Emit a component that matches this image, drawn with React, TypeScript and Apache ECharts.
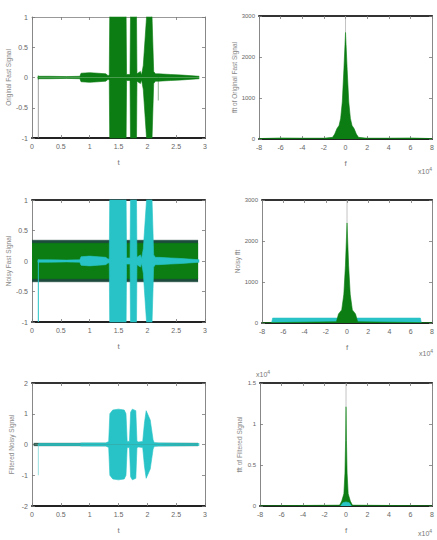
import React, { useEffect, useRef } from "react";
import * as echarts from "echarts";

// ---- time-domain envelopes (t in s, amplitude) ----
const tOrig = [0.1, 0.11, 0.12, 0.3, 0.6, 0.83, 0.85, 1.0, 1.15, 1.28, 1.32, 1.34, 1.35, 1.63, 1.64, 1.7, 1.71, 1.81, 1.82, 1.88, 1.9, 1.93, 1.99, 2.03, 2.08, 2.11, 2.14, 2.2, 2.4, 2.6, 2.9];
const ampOrig = [0, 0.03, 0.02, 0.02, 0.015, 0.02, 0.07, 0.08, 0.07, 0.06, 0.03, 0.04, 1.3, 1.3, 0.05, 0.05, 1.3, 1.3, 0.06, 0.1, 0.04, 0.2, 1.05, 1.3, 1.05, 0.1, 0.06, 0.06, 0.05, 0.04, 0.02];
const tSpike = [0.11, 0.11];
const vSpike = [0, -1];
const tSpike2 = [2.19, 2.19];
const vSpike2 = [0, -0.38];

const tNoise = [0, 2.88];
const ampNoise = [0.29, 0.29];
const ampNoisePeak = [0.34, 0.34];

const tFilt = [0.1, 0.12, 0.83, 0.85, 1.28, 1.33, 1.35, 1.4, 1.5, 1.6, 1.63, 1.65, 1.69, 1.71, 1.74, 1.8, 1.82, 1.85, 1.92, 1.95, 1.98, 2.05, 2.1, 2.12, 2.2, 2.9];
const ampFilt = [0, 0.03, 0.03, 0.05, 0.05, 0.1, 1.0, 1.12, 1.15, 1.12, 1.0, 0.1, 0.1, 1.05, 1.15, 1.1, 0.1, 0.08, 0.1, 0.7, 1.1, 0.8, 0.15, 0.06, 0.05, 0.03];
const tBase = [0.03, 2.88];
const ampBase = [0.04, 0.04];

// ---- spectra (f in 1e4 Hz) ----
const fOrig = [-8, -6, -4, -2, -1.2, -1.0, -0.8, -0.6, -0.45, -0.3, -0.15, -0.05, 0, 0.05, 0.15, 0.3, 0.45, 0.6, 0.8, 1.0, 1.2, 2, 4, 6, 8];
const magOrig = [10, 25, 20, 20, 40, 120, 250, 330, 500, 900, 1700, 2300, 2600, 2300, 1700, 900, 500, 330, 250, 120, 40, 20, 20, 25, 10];

const fNoisy = [-8, -1.0, -0.8, -0.5, -0.3, -0.15, -0.05, 0, 0.05, 0.15, 0.3, 0.5, 0.8, 1.0, 8];
const magNoisy = [5, 30, 220, 320, 700, 1400, 2100, 2440, 2100, 1400, 700, 320, 220, 30, 5];
const fFloor = [-7.1, -7.0, 6.9, 7.0];
const magFloor = [0, 120, 120, 0];

const fFilt = [-8, -0.6, -0.4, -0.2, -0.1, -0.04, 0, 0.04, 0.1, 0.2, 0.4, 0.6, 8];
const magFilt = [0.002, 0.01, 0.06, 0.15, 0.4, 0.8, 1.21, 0.8, 0.4, 0.15, 0.06, 0.01, 0.002];
const fFiltC = [-0.5, -0.3, 0, 0.3, 0.5];
const magFiltC = [0, 0.04, 0.05, 0.04, 0];

const fDC = [0, 0];
const magDC1 = [2600, 3000];
const magDC2 = [2440, 3000];
const magDC3 = [1.21, 1.5];

const xTicksT = [0, 3, 0.5];
const xTicksF = [-8, 8, 2];

const GREEN = "#0b7d12";
const DARK = "#1d4a3c";
const CYAN = "#27c3c6";
const FONT = "Liberation Sans";

type Panel = {
  left: number; top: number; width: number; height: number;
  x: number[]; y: number[]; name: string; xname: string;
  topThick: boolean; ylabSize: number; nameGap: number;
};

const panels: Panel[] = [
  { left: 32, top: 17, width: 173, height: 121, x: xTicksT, y: [-1, 1, 0.5], name: "Original Fast Signal", xname: "t", topThick: false, ylabSize: 7, nameGap: 17 },
  { left: 259, top: 16, width: 176, height: 123, x: xTicksF, y: [0, 3000, 1000], name: "fft of Original Fast Signal", xname: "f", topThick: true, ylabSize: 6, nameGap: 19 },
  { left: 32, top: 200, width: 173, height: 122, x: xTicksT, y: [-1, 1, 0.5], name: "Noisy Fast Signal", xname: "t", topThick: true, ylabSize: 7, nameGap: 17 },
  { left: 262, top: 200, width: 173, height: 123, x: xTicksF, y: [0, 3000, 1000], name: "Noisy fft", xname: "f", topThick: true, ylabSize: 6, nameGap: 19 },
  { left: 32, top: 383, width: 173, height: 123, x: xTicksT, y: [-2, 2, 1], name: "Filtered Noisy Signal", xname: "t", topThick: true, ylabSize: 7, nameGap: 17 },
  { left: 260, top: 383, width: 175, height: 123, x: xTicksF, y: [0, 1.5, 0.5], name: "fft of Filtered Signal", xname: "f", topThick: true, ylabSize: 6, nameGap: 17 },
];

const pairs = (xs: number[], ys: number[], s = 1) => xs.map((x, i) => [x, s * ys[i]]);

function area(idx: number, xs: number[], ys: number[], color: string, z: number, sym: boolean) {
  const mk = (s: number) => ({
    type: "line", xAxisIndex: idx, yAxisIndex: idx, data: pairs(xs, ys, s),
    symbol: "none", showSymbol: false, z,
    lineStyle: { color, width: 0.6 }, areaStyle: { color, opacity: 1 },
  });
  return sym ? [mk(1), mk(-1)] : [mk(1)];
}
function thin(idx: number, xs: number[], ys: number[], color: string, z: number, w = 0.8) {
  return { type: "line", xAxisIndex: idx, yAxisIndex: idx, data: pairs(xs, ys), symbol: "none", showSymbol: false, z, lineStyle: { color, width: w } };
}

export default function App() {
  const ref = useRef<HTMLDivElement>(null);
  useEffect(() => {
    if (!ref.current) return;
    const chart = echarts.init(ref.current, null, { renderer: "svg" });
    const grid = panels.map((p) => ({ left: p.left, top: p.top, width: p.width, height: p.height, containLabel: false }));
    const tick = { show: true, inside: true, length: 3, lineStyle: { color: "#777", width: 0.8 } };
    const fmt = (v: number) => String(v);
    const xAxis: any[] = [];
    const yAxis: any[] = [];
    panels.forEach((p, i) => {
      xAxis.push({
        type: "value", gridIndex: i, position: "bottom", min: p.x[0], max: p.x[1], interval: p.x[2],
        axisLine: { show: true, onZero: false, lineStyle: { color: "#222", width: 2 } },
        axisTick: tick, splitLine: { show: false },
        axisLabel: { fontSize: 7, color: "#666", margin: 5, fontFamily: FONT, showMinLabel: true, showMaxLabel: true, formatter: fmt },
        name: p.xname, nameLocation: "middle", nameGap: 20, nameTextStyle: { fontSize: 8, color: "#777", fontFamily: FONT },
      });
      yAxis.push({
        type: "value", gridIndex: i, position: "left", min: p.y[0], max: p.y[1], interval: p.y[2],
        axisLine: { show: true, onZero: false, lineStyle: { color: "#888", width: 1 } },
        axisTick: tick, splitLine: { show: false },
        axisLabel: { fontSize: p.ylabSize, color: "#666", margin: 4, fontFamily: FONT, showMinLabel: true, showMaxLabel: true, formatter: fmt },
        name: p.name, nameLocation: "middle", nameGap: p.nameGap, nameRotate: 90,
        nameTextStyle: { fontSize: 6.5, color: "#888", fontFamily: FONT },
      });
    });
    panels.forEach((p, i) => {
      xAxis.push({
        type: "value", gridIndex: i, position: "top", min: p.x[0], max: p.x[1], interval: p.x[2],
        axisLine: { show: true, onZero: false, lineStyle: { color: p.topThick ? "#333" : "#999", width: p.topThick ? 2 : 1 } },
        axisTick: tick, axisLabel: { show: false }, splitLine: { show: false },
      });
      yAxis.push({
        type: "value", gridIndex: i, position: "right", min: p.y[0], max: p.y[1], interval: p.y[2],
        axisLine: { show: true, onZero: false, lineStyle: { color: "#888", width: 1 } },
        axisTick: tick, axisLabel: { show: false }, splitLine: { show: false },
      });
    });

    const series: any[] = [
      thin(0, tSpike, vSpike, "#888", 2, 0.8),
      thin(0, tSpike2, vSpike2, "#4a7a4a", 2, 0.6),
      ...area(0, tOrig, ampOrig, GREEN, 3, true),
      thin(1, fDC, magDC1, "#999", 2, 0.6),
      ...area(1, fOrig, magOrig, GREEN, 3, false),
      ...area(2, tNoise, ampNoisePeak, DARK, 2, true),
      ...area(2, tNoise, ampNoise, GREEN, 3, true),
      thin(2, tSpike, vSpike, CYAN, 4, 1),
      ...area(2, tOrig, ampOrig, CYAN, 5, true),
      thin(3, fDC, magDC2, "#999", 2, 0.6),
      ...area(3, fFloor, magFloor, CYAN, 3, false),
      ...area(3, fNoisy, magNoisy, GREEN, 4, false),
      ...area(4, tBase, ampBase, DARK, 2, true),
      thin(4, tSpike, [0, -1], "#7fd6d6", 3, 0.8),
      ...area(4, tFilt, ampFilt, CYAN, 4, true),
      thin(5, fDC, magDC3, "#999", 2, 0.6),
      ...area(5, fFilt, magFilt, GREEN, 3, false),
      ...area(5, fFiltC, magFiltC, CYAN, 4, false),
    ];

    const exp = (x: number, y: number) => ({
      type: "text", left: x, top: y,
      style: { text: "{a|x10}{b|4}", rich: { a: { fontSize: 7, fill: "#777", fontFamily: FONT }, b: { fontSize: 5, fill: "#777", fontFamily: FONT, verticalAlign: "top", padding: [0, 0, 6, 0] } } },
    });

    chart.setOption({
      animation: false,
      backgroundColor: "#ffffff",
      grid, xAxis, yAxis, series,
      graphic: [exp(418, 166), exp(419, 348), exp(418, 528), exp(256, 369)],
    });
    return () => chart.dispose();
  }, []);
  return <div ref={ref} style={{ position: "absolute", left: 0, top: 0, width: 437, height: 540, background: "#fff" }} />;
}
